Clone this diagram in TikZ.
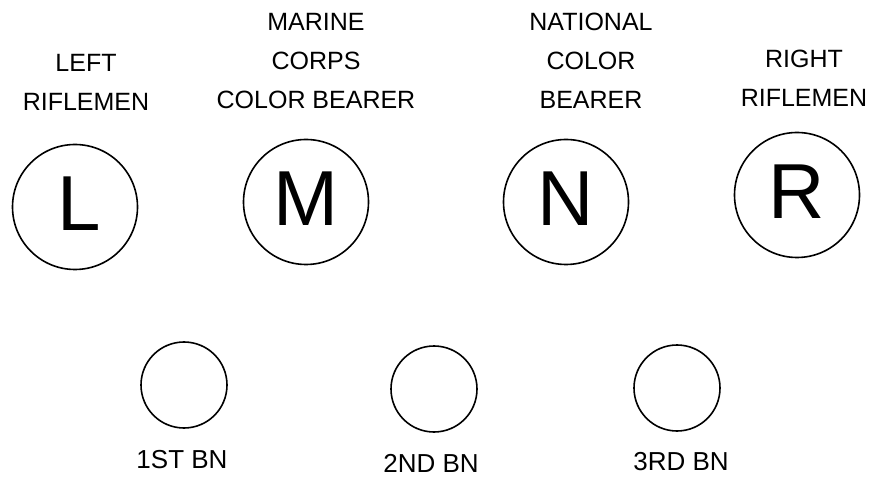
\documentclass[tikz,border=0pt]{standalone}
\usepackage{fontspec}
\setmainfont{Liberation Sans}
\begin{document}
\begin{tikzpicture}[x=1pt,y=-1pt,
  big/.style={circle,draw,line width=1.6pt,minimum size=125pt,inner sep=0pt,
    font=\fontsize{78}{80}\selectfont},
  small/.style={circle,draw,line width=1.6pt,minimum size=86pt,inner sep=0pt},
  lbl/.style={align=center,anchor=north,inner sep=0pt,
    font=\fontsize{25}{39}\selectfont},
  bnlbl/.style={anchor=base,inner sep=0pt,font=\fontsize{26}{30}\selectfont}]
\useasboundingbox (0,0) rectangle (870,478);
% top labels
\node[lbl] (tl) at (86,54) {LEFT\\RIFLEMEN};
\node[lbl] (tm) at (316,13) {MARINE\\CORPS\\COLOR BEARER};
\node[lbl] (tn) at (591,13) {NATIONAL\\COLOR\\BEARER};
\node[lbl] (tr) at (804,50) {RIGHT\\RIFLEMEN};
% big circles
\node[big] (L) at (75,207) {\raisebox{6pt}{\hspace{9pt}L}};
\node[big] (M) at (306,202) {\raisebox{6pt}{M}};
\node[big] (N) at (566,202) {\raisebox{6pt}{N}};
\node[big] (R) at (797,195) {\raisebox{6pt}{R}};
% small circles
\node[small] (b1) at (184,385) {};
\node[small] (b2) at (434,389) {};
\node[small] (b3) at (677,388) {};
\node[bnlbl] (l1) at (182,468) {1ST BN};
\node[bnlbl] (l2) at (431,472) {2ND BN};
\node[bnlbl] (l3) at (681,470) {3RD BN};
\end{tikzpicture}
\end{document}
